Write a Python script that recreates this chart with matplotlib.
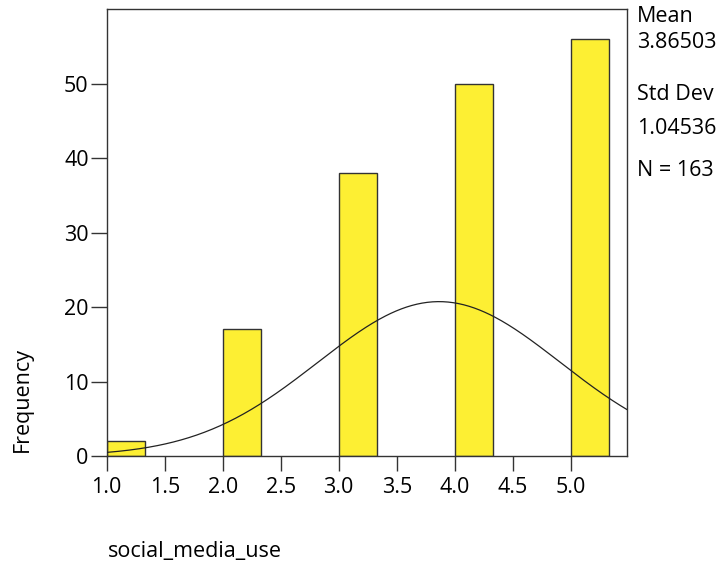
import numpy as np
import matplotlib.pyplot as plt

plt.rcParams['font.family'] = ['Open Sans', 'DejaVu Sans']

# histogram data (bin left edges, counts)
bin_lefts = [1.0, 2.0, 3.0, 4.0, 5.0]
counts = [2, 17, 38, 50, 56]
bin_width = 1 / 3

mean = 3.86503
std_dev = 1.04536
n = 163

x_ticks = [1.0, 1.5, 2.0, 2.5, 3.0, 3.5, 4.0, 4.5, 5.0]
y_ticks = [0, 10, 20, 30, 40, 50]

fig = plt.figure(figsize=(7.23, 5.70), dpi=100)
ax = fig.add_axes([0.1476, 0.2, 0.7192, 0.7837])

ax.bar(bin_lefts, counts, width=bin_width, align='edge',
       color='#fdef33', edgecolor='#333333', linewidth=1.0, zorder=2)

xs = np.linspace(1.0, 5.483, 400)
pdf = np.exp(-0.5 * ((xs - mean) / std_dev) ** 2) / (std_dev * np.sqrt(2 * np.pi))
ax.plot(xs, pdf * n * bin_width, color='#222222', linewidth=0.9, zorder=3)

ax.set_xlim(1.0, 5.483)
ax.set_ylim(0, 60)
ax.set_xticks(x_ticks)
ax.set_xticklabels([f'{t:.1f}' for t in x_ticks])
ax.set_yticks(y_ticks)

fs = 15.5
for s in ax.spines.values():
    s.set_color('#333333')
    s.set_linewidth(1.0)
ax.tick_params(axis='x', length=11, width=1, color='#333333', labelsize=fs, pad=4)
ax.tick_params(axis='y', length=11.5, width=1, color='#333333', labelsize=fs, pad=1.5)

fig.text(22 / 723, 1 - 400 / 570, 'Frequency', rotation=90, fontsize=fs,
         ha='center', va='center')
fig.text(108 / 723, 1 - 551 / 570, 'social_media_use', fontsize=fs, ha='left', va='center')

stats = [('Mean', 16), ('%.5f' % mean, 42), ('Std Dev', 94), ('%.5f' % std_dev, 129),
         ('N = %d' % n, 171)]
for label, ypix in stats:
    fig.text(637 / 723, 1 - ypix / 570, label, fontsize=fs, ha='left', va='center')

fig.savefig('out.png', dpi=100)
